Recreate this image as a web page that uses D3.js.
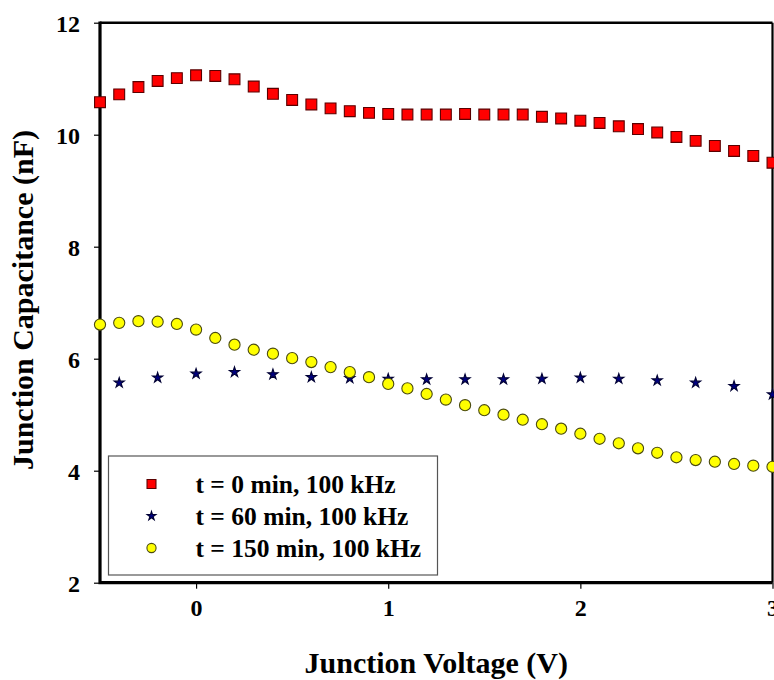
<!DOCTYPE html>
<html>
<head>
<meta charset="utf-8">
<script src="https://cdn.jsdelivr.net/npm/d3@7"></script>
<style>
	body { margin: 0; background: #fff; }
	svg text { font-family: 'Liberation Serif', 'Times New Roman', serif; font-weight: bold; fill: #000; }
</style>
</head>
<body>
<svg id="chart"></svg>
<script>
// Junction voltage (V), 0.1 V steps for the squares and circles
const voltageFine = [
	-0.5, -0.4, -0.3, -0.2, -0.1, 0.0, 0.1, 0.2, 0.3, 0.4, 0.5, 0.6,
	0.7, 0.8, 0.9, 1.0, 1.1, 1.2, 1.3, 1.4, 1.5, 1.6, 1.7, 1.8,
	1.9, 2.0, 2.1, 2.2, 2.3, 2.4, 2.5, 2.6, 2.7, 2.8, 2.9, 3.0,
];
// 0.2 V steps for the stars
const voltageCoarse = [
	-0.4, -0.2, 0.0, 0.2, 0.4, 0.6, 0.8, 1.0, 1.2,
	1.4, 1.6, 1.8, 2.0, 2.2, 2.4, 2.6, 2.8, 3.0,
];

// Junction capacitance (nF)
const capT0 = [
	10.58, 10.72, 10.85, 10.96, 11.01, 11.06, 11.05, 10.99, 10.86, 10.73, 10.62, 10.54,
	10.47, 10.42, 10.39, 10.37, 10.36, 10.36, 10.36, 10.37, 10.36, 10.36, 10.36, 10.32,
	10.29, 10.25, 10.21, 10.15, 10.10, 10.04, 9.96, 9.89, 9.80, 9.71, 9.62, 9.50,
];
const capT60 = [
	5.57, 5.66, 5.73, 5.76, 5.72, 5.67, 5.65, 5.64, 5.63,
	5.63, 5.63, 5.64, 5.66, 5.64, 5.61, 5.57, 5.51, 5.36,
];
const capT150 = [
	6.61, 6.64, 6.67, 6.66, 6.62, 6.52, 6.37, 6.25, 6.16, 6.09, 6.01, 5.94,
	5.85, 5.76, 5.67, 5.55, 5.47, 5.37, 5.27, 5.17, 5.08, 5.00, 4.91, 4.83,
	4.75, 4.66, 4.57, 4.49, 4.40, 4.32, 4.24, 4.19, 4.16, 4.12, 4.09, 4.07,
];

const seriesLabels = ['t = 0 min, 100 kHz', 't = 60 min, 100 kHz', 't = 150 min, 100 kHz'];
const xTicks = [0, 1, 2, 3];
const yTicks = [2, 4, 6, 8, 10, 12];

const series = [
	{ label: seriesLabels[0], x: voltageFine, y: capT0, shape: d3.symbolSquare, size: 118, legendSize: 80, fill: '#ff0000', stroke: '#5a0000' },
	{ label: seriesLabels[1], x: voltageCoarse, y: capT60, shape: d3.symbolStar, size: 32, legendSize: 24, fill: '#000080', stroke: '#000033' },
	{ label: seriesLabels[2], x: voltageFine, y: capT150, shape: d3.symbolCircle, size: 98, legendSize: 66, fill: '#ffff00', stroke: '#4a4a10' },
];

const width = 774;
const height = 680;
const margin = { top: 22.7, right: 1.5, bottom: 97.3, left: 100 };

const svg = d3.select('#chart')
	.attr('width', width)
	.attr('height', height);

const xScale = d3.scaleLinear()
	.domain([-0.5, 3])
	.range([margin.left, width - margin.right]);

const yScale = d3.scaleLinear()
	.domain([2, 12])
	.range([height - margin.bottom, margin.top]);

// axes (ticks outward, domain replaced by the frame)
const xAxisG = svg.append('g')
	.attr('transform', `translate(0,${height - margin.bottom})`)
	.call(d3.axisBottom(xScale).tickValues(xTicks).tickSize(6).tickSizeOuter(0).tickFormat(d3.format('d')))
	.call((g) => g.select('.domain').remove());
xAxisG.selectAll('line').attr('stroke', '#000').attr('stroke-width', 1.2);
xAxisG.selectAll('text')
	.attr('y', 25)
	.attr('dy', '0.35em')
	.style('font-size', '24px');

const yAxisG = svg.append('g')
	.attr('transform', `translate(${margin.left},0)`)
	.call(d3.axisLeft(yScale).tickValues(yTicks).tickSize(6).tickSizeOuter(0).tickFormat(d3.format('d')))
	.call((g) => g.select('.domain').remove());
yAxisG.selectAll('line').attr('stroke', '#000').attr('stroke-width', 1.2);
yAxisG.selectAll('text')
	.attr('x', -20)
	.attr('dy', '0.35em')
	.style('font-size', '24px');

// plot frame
const x0 = xScale(-0.5), x1 = xScale(3), y0 = yScale(2), y1 = yScale(12);
svg.append('path')
	.attr('d', `M${x0},${y1}H${x1}`)
	.attr('stroke', '#000').attr('stroke-width', 2.6).attr('fill', 'none');
svg.append('path')
	.attr('d', `M${x1},${y1}V${y0}`)
	.attr('stroke', '#000').attr('stroke-width', 2.2).attr('fill', 'none');
svg.append('path')
	.attr('d', `M${x0},${y1 - 1.3}V${y0}H${x1}`)
	.attr('stroke', '#000').attr('stroke-width', 3.2).attr('fill', 'none');

// markers
series.forEach((s) => {
	const pts = s.x.map((v, j) => ({ x: v, y: s.y[j] }));
	svg.append('g')
		.selectAll('path')
		.data(pts)
		.join('path')
		.attr('transform', (d) => `translate(${xScale(d.x)},${yScale(d.y)})`)
		.attr('d', d3.symbol().type(s.shape).size(s.size))
		.attr('fill', s.fill)
		.attr('stroke', s.stroke)
		.attr('stroke-width', 1.1);
});

// legend
const legend = svg.append('g').attr('transform', 'translate(108.5,456)');
legend.append('rect')
	.attr('width', 329)
	.attr('height', 119)
	.attr('fill', '#fff')
	.attr('stroke', '#555')
	.attr('stroke-width', 1.2);

const rowY = [28, 60, 92];
const legendRows = legend.selectAll('.legend-row')
	.data(series)
	.join('g')
	.attr('class', 'legend-row')
	.attr('transform', (d, i) => `translate(0,${rowY[i]})`);

legendRows.append('path')
	.attr('transform', 'translate(43,0)')
	.attr('d', (d) => d3.symbol().type(d.shape).size(d.legendSize)())
	.attr('fill', (d) => d.fill)
	.attr('stroke', (d) => d.stroke)
	.attr('stroke-width', 1.1);

legendRows.append('text')
	.attr('x', 87)
	.attr('dy', '0.35em')
	.style('font-size', '25.5px')
	.text((d) => d.label);

// axis titles
svg.append('text')
	.attr('x', (x0 + x1) / 2)
	.attr('y', 673)
	.attr('text-anchor', 'middle')
	.style('font-size', '30px')
	.text('Junction Voltage (V)');

svg.append('text')
	.attr('transform', 'translate(33,300) rotate(-90)')
	.attr('text-anchor', 'middle')
	.style('font-size', '30px')
	.text('Junction Capacitance (nF)');
</script>
</body>
</html>
